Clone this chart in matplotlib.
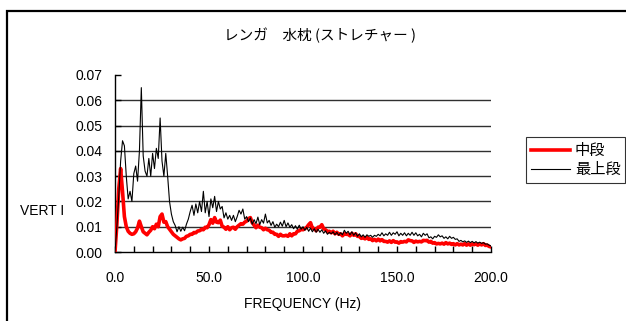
import numpy as np
import matplotlib
matplotlib.use("Agg")
import matplotlib.pyplot as plt
from matplotlib.patches import Rectangle
from matplotlib.ticker import MultipleLocator, FormatStrFormatter

plt.rcParams["font.family"] = ["Liberation Sans", "Noto Sans CJK JP", "DejaVu Sans"]

title = "レンガ　水枕 (ストレチャー )"
xlabel = "FREQUENCY (Hz)"
ylabel = "VERT I"
series_names = ["中段", "最上段"]

freq = np.arange(0, 201, 1)

# 最上段 (black)
top = [
    0.000, 0.010, 0.022, 0.036, 0.044, 0.042, 0.030, 0.021, 0.024, 0.020,
    0.031, 0.034, 0.028, 0.040, 0.065, 0.038, 0.032, 0.030, 0.037, 0.030,
    0.039, 0.033, 0.041, 0.037, 0.053, 0.036, 0.030, 0.039, 0.030, 0.020,
    0.015, 0.012, 0.0105, 0.0080, 0.0100, 0.0082, 0.0098, 0.0084, 0.011, 0.013,
    0.016, 0.0185, 0.0145, 0.019, 0.0155, 0.020, 0.016, 0.024, 0.0155, 0.020,
    0.014, 0.021, 0.0175, 0.022, 0.016, 0.020, 0.017, 0.018, 0.0135, 0.0155,
    0.0130, 0.0145, 0.0125, 0.0145, 0.0120, 0.0140, 0.0165, 0.0150, 0.0170, 0.0130,
    0.0140, 0.0120, 0.0135, 0.0110, 0.0128, 0.0112, 0.0138, 0.0108, 0.0128, 0.0114,
    0.0150, 0.0115, 0.0125, 0.0105, 0.0120, 0.0098, 0.0110, 0.0100, 0.0118, 0.0102,
    0.0125, 0.0100, 0.0115, 0.0098, 0.0108, 0.0092, 0.0104, 0.0090, 0.0106, 0.0090,
    0.0100, 0.0086, 0.0098, 0.0082, 0.0094, 0.0080, 0.0092, 0.0078, 0.0090, 0.0078,
    0.0088, 0.0074, 0.0084, 0.0070, 0.0078, 0.0072, 0.0080, 0.0068, 0.0078, 0.0066,
    0.0076, 0.0068, 0.0086, 0.0074, 0.0082, 0.0068, 0.0080, 0.0066, 0.0076, 0.0062,
    0.0072, 0.0060, 0.0068, 0.0058, 0.0068, 0.0062, 0.0066, 0.0058, 0.0066, 0.0062,
    0.0070, 0.0064, 0.0076, 0.0064, 0.0072, 0.0066, 0.0078, 0.0066, 0.0076, 0.0070,
    0.0080, 0.0064, 0.0074, 0.0066, 0.0076, 0.0064, 0.0074, 0.0066, 0.0078, 0.0066,
    0.0076, 0.0064, 0.0070, 0.0060, 0.0074, 0.0066, 0.0072, 0.0056, 0.0060, 0.0052,
    0.0062, 0.0058, 0.0068, 0.0060, 0.0064, 0.0054, 0.0060, 0.0052, 0.0062, 0.0054,
    0.0058, 0.0050, 0.0052, 0.0042, 0.0046, 0.0040, 0.0044, 0.0038, 0.0043, 0.0037,
    0.0042, 0.0036, 0.0041, 0.0035, 0.0039, 0.0034, 0.0037, 0.0031, 0.0032, 0.0027,
    0.0024,
]

# 中段 (red)
mid = [
    0.000, 0.011, 0.025, 0.033, 0.024, 0.014, 0.010, 0.0082, 0.0074, 0.0070,
    0.0072, 0.0080, 0.0095, 0.0122, 0.0100, 0.0080, 0.0074, 0.0068, 0.0078, 0.0086,
    0.0100, 0.0092, 0.0110, 0.0100, 0.0140, 0.0150, 0.0118, 0.0120, 0.0100, 0.0090,
    0.0080, 0.0070, 0.0064, 0.0058, 0.0052, 0.0048, 0.0052, 0.0054, 0.0062, 0.0064,
    0.0070, 0.0070, 0.0077, 0.0076, 0.0083, 0.0084, 0.0090, 0.0088, 0.0098, 0.0096,
    0.0108, 0.0128, 0.0114, 0.0136, 0.0118, 0.0116, 0.0126, 0.0102, 0.0098, 0.0090,
    0.0100, 0.0088, 0.0096, 0.0098, 0.0090, 0.0100, 0.0106, 0.0112, 0.0110, 0.0118,
    0.0122, 0.0132, 0.0136, 0.0116, 0.0106, 0.0096, 0.0106, 0.0098, 0.0096, 0.0088,
    0.0094, 0.0088, 0.0086, 0.0078, 0.0078, 0.0070, 0.0070, 0.0062, 0.0070, 0.0064,
    0.0064, 0.0066, 0.0062, 0.0072, 0.0064, 0.0072, 0.0072, 0.0082, 0.0084, 0.0090,
    0.0088, 0.0092, 0.0098, 0.0108, 0.0116, 0.0094, 0.0092, 0.0084, 0.0098, 0.0098,
    0.0108, 0.0092, 0.0088, 0.0080, 0.0082, 0.0076, 0.0082, 0.0072, 0.0078, 0.0070,
    0.0072, 0.0064, 0.0072, 0.0070, 0.0070, 0.0064, 0.0074, 0.0066, 0.0072, 0.0062,
    0.0062, 0.0054, 0.0056, 0.0052, 0.0058, 0.0050, 0.0052, 0.0045, 0.0050, 0.0044,
    0.0051, 0.0044, 0.0049, 0.0042, 0.0042, 0.0039, 0.0044, 0.0038, 0.0045, 0.0039,
    0.0040, 0.0035, 0.0041, 0.0039, 0.0042, 0.0040, 0.0048, 0.0045, 0.0044, 0.0038,
    0.0043, 0.0040, 0.0042, 0.0040, 0.0046, 0.0045, 0.0046, 0.0039, 0.0042, 0.0035,
    0.0037, 0.0032, 0.0034, 0.0032, 0.0035, 0.0031, 0.0037, 0.0032, 0.0035, 0.0030,
    0.0033, 0.0028, 0.0033, 0.0028, 0.0031, 0.0028, 0.0033, 0.0027, 0.0032, 0.0027,
    0.0032, 0.0029, 0.0032, 0.0027, 0.0032, 0.0028, 0.0033, 0.0026, 0.0027, 0.0022,
    0.0020,
]

fig = plt.figure(figsize=(6.26, 3.21), dpi=100)
ax = fig.add_axes([115 / 626, 69 / 321, 376 / 626, 177 / 321])

# outer chart frame (runs off the right and bottom edges)
fig.patches.append(Rectangle((6.5 / 626, -0.2), 1.2, 0.2 + 310.5 / 321,
                             transform=fig.transFigure, fill=False,
                             edgecolor="black", linewidth=1.6))

ax.plot(freq, mid, color="#ff0000", linewidth=2.6, label=series_names[0], zorder=3)
ax.plot(freq, top, color="black", linewidth=0.8, label=series_names[1], zorder=4)

ax.set_xlim(0, 200)
ax.set_ylim(0, 0.07)
ax.yaxis.set_major_locator(MultipleLocator(0.01))
ax.yaxis.set_major_formatter(FormatStrFormatter("%.2f"))
ax.xaxis.set_major_locator(MultipleLocator(50))
ax.xaxis.set_minor_locator(MultipleLocator(10))
ax.xaxis.set_major_formatter(FormatStrFormatter("%.1f"))

for y in np.arange(0.01, 0.065, 0.01):
    ax.axhline(y, color="#303030", linewidth=1.0, zorder=1)

for s in ["top", "right"]:
    ax.spines[s].set_visible(False)
for s in ["left", "bottom"]:
    ax.spines[s].set_linewidth(1.0)

ax.tick_params(axis="both", direction="in", length=4, width=1, labelsize=10)
ax.tick_params(axis="x", which="minor", direction="in", length=4, width=1)
ax.tick_params(axis="x", pad=14)
ax.tick_params(axis="y", pad=9)

ax.set_xlabel(xlabel, fontsize=10, labelpad=8)

fig.text(320 / 626, 1 - 35 / 321, title, ha="center", va="center", fontsize=10.5,
         family=["Noto Sans CJK JP", "DejaVu Sans"])
fig.text(20 / 626, 1 - 211 / 321, ylabel, ha="left", va="center", fontsize=10)

leg = ax.legend(loc="center left", bbox_to_anchor=(526 / 626, 1 - 160 / 321),
                bbox_transform=fig.transFigure, frameon=True, fancybox=False,
                edgecolor="black", handlelength=2.6,
                borderpad=0.3, labelspacing=0.15, handletextpad=0.3,
                borderaxespad=0,
                prop={"family": ["Noto Sans CJK JP"], "size": 11})
leg.get_frame().set_linewidth(0.8)

fig.savefig("out.png", dpi=100)
